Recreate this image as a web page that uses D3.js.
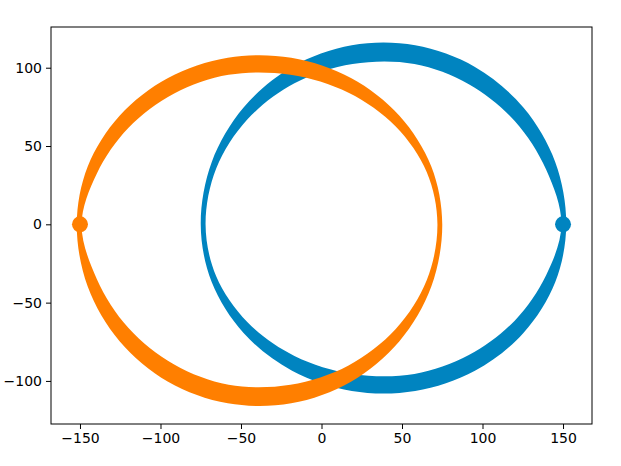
<!DOCTYPE html>
<html>
<head>
<meta charset="utf-8">
<script src="https://cdn.jsdelivr.net/npm/d3@7"></script>
<style>
  body { margin: 0; background: #fff; }
  svg text { font-family: "DejaVu Sans", sans-serif; }
</style>
</head>
<body>
<svg id="chart" width="621" height="466"></svg>
<script>
// outlines of the two orbit bands (data units)
var blueOuter = [[152,0],[145.2,39.7],[125.4,74.6],[95.3,100.5],[58.2,114.3],[18.8,114.3],[-18.3,100.5],[-48.4,74.6],[-68.2,39.7],[-75,0],
    [-68.2,-36.9],[-48.4,-69.4],[-18.3,-93.5],[18.8,-106.4],[58.2,-106.4],[95.3,-93.5],[125.4,-69.4],[145.2,-36.9]];
var blueInner = [[149,0],[139.5,35],[120,66],[91.5,89.5],[57.7,102.4],[19.3,102.4],[-16.8,90.1],[-46.1,66.9],[-65.4,35.6],[-72,0],
    [-65.4,-33.2],[-46.1,-62.4],[-16.8,-84],[19.3,-95.5],[57.7,-95.5],[91.5,-83.5],[120,-61.5],[139.5,-32.5]];
var orangeOuter = [[-152,0],[-145.2,-39.7],[-125.4,-74.6],[-95.3,-100.5],[-58.2,-114.3],[-18.8,-114.3],[18.3,-100.5],[48.4,-74.6],[68.2,-39.7],[75,0],
    [68.2,36.9],[48.4,69.4],[18.3,93.5],[-18.8,106.4],[-58.2,106.4],[-95.3,93.5],[-125.4,69.4],[-145.2,36.9]];
var orangeInner = [[-149,0],[-139.5,-35],[-120,-66],[-91.5,-89.5],[-57.7,-102.4],[-19.3,-102.4],[16.8,-90.1],[46.1,-66.9],[65.4,-35.6],[72,0],
    [65.4,33.2],[46.1,62.4],[16.8,84],[-19.3,95.5],[-57.7,95.5],[-91.5,83.5],[-120,61.5],[-139.5,32.5]];
var startPoints = [[150,0],[-150,0]];
var xTicks = [-150,-100,-50,0,50,100,150];
var yTicks = [-100,-50,0,50,100];

var blueColor = "#0084c0";
var orangeColor = "#ff7f00";

var margin = {top: 27, right: 29, bottom: 42, left: 51};
var width = 621, height = 466;

var svg = d3.select("#chart");

var x = d3.scaleLinear().domain([-168, 168]).range([margin.left, width - margin.right]);
var y = d3.scaleLinear().domain([-127.5, 126]).range([height - margin.bottom, margin.top]);

var line = d3.line()
    .x(function(d){ return x(d[0]); })
    .y(function(d){ return y(d[1]); })
    .curve(d3.curveCatmullRomClosed);

function band(outer, inner, color){
    svg.append("path")
        .attr("d", line(outer) + line(inner))
        .attr("fill", color)
        .attr("fill-rule", "evenodd")
        .attr("stroke", "none");
}

band(blueOuter, blueInner, blueColor);
band(orangeOuter, orangeInner, orangeColor);

svg.selectAll(".start")
    .data(startPoints)
    .enter().append("circle")
    .attr("class", "start")
    .attr("cx", function(d){ return x(d[0]); })
    .attr("cy", function(d){ return y(d[1]); })
    .attr("r", 8)
    .attr("fill", function(d, i){ return i == 0 ? blueColor : orangeColor; });

var fmt = function(d){ return d < 0 ? "\u2212" + Math.abs(d) : "" + d; };

var xAxis = svg.append("g")
    .attr("transform", "translate(0," + (height - margin.bottom) + ")")
    .call(d3.axisBottom(x).tickValues(xTicks).tickFormat(fmt).tickSize(5).tickPadding(4).tickSizeOuter(0));
var yAxis = svg.append("g")
    .attr("transform", "translate(" + margin.left + ",0)")
    .call(d3.axisLeft(y).tickValues(yTicks).tickFormat(fmt).tickSize(5).tickPadding(4).tickSizeOuter(0));

[xAxis, yAxis].forEach(function(g){
    g.select(".domain").remove();
    g.selectAll("line").attr("stroke", "#000").attr("stroke-width", 1);
    g.selectAll("text").attr("font-size", "14px").attr("fill", "#000")
        .style("font-family", "'DejaVu Sans', sans-serif");
});

// frame
svg.append("rect")
    .attr("x", margin.left)
    .attr("y", margin.top)
    .attr("width", width - margin.left - margin.right)
    .attr("height", height - margin.top - margin.bottom)
    .attr("fill", "none")
    .attr("stroke", "#000")
    .attr("stroke-width", 1);
</script>
</body>
</html>
